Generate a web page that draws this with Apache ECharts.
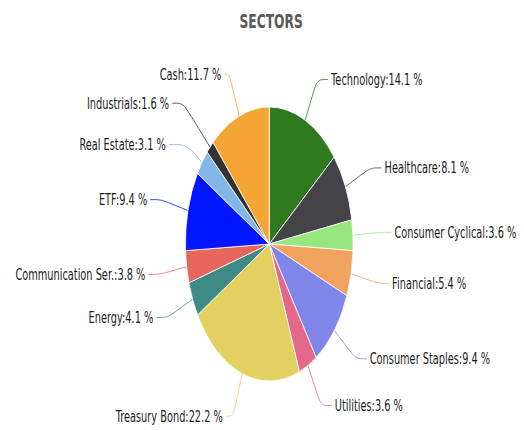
<!DOCTYPE html>
<html>
<head>
<meta charset="utf-8">
<script src="https://cdn.jsdelivr.net/npm/echarts@6/dist/echarts.min.js"></script>
<style>
  html, body { margin: 0; padding: 0; background: #fff; overflow: hidden; }
  #wrap { width: 524px; height: 430px; overflow: hidden; }
  /* the reference is squashed horizontally, so draw wide and squeeze */
  #chart { width: 856px; height: 430px; transform: scaleX(0.612); transform-origin: 0 0; }
</style>
</head>
<body>
<div id="wrap"><div id="chart"></div></div>
<script>
const sectors = ['Technology', 'Healthcare', 'Consumer Cyclical', 'Financial', 'Consumer Staples',
  'Utilities', 'Treasury Bond', 'Energy', 'Communication Ser.', 'ETF', 'Real Estate', 'Industrials', 'Cash'];
const weights = [14.1, 8.1, 3.6, 5.4, 9.4, 3.6, 22.2, 4.1, 3.8, 9.4, 3.1, 1.6, 11.7];
const colors = ['#2f7a1f', '#434348', '#98e67f', '#f0a35f', '#8085e9', '#e5678a', '#e2d062',
  '#3f8a84', '#e4665c', '#0016ff', '#85b6e8', '#333333', '#f4a533'];
// a few connectors in the reference are shaped differently
const lineLen = { Industrials: 62, 'Real Estate': 30 };
const lineLen2 = { 'Real Estate': 30, Cash: 8, 'Treasury Bond': 12 };

const chart = echarts.init(document.getElementById('chart'), null, { renderer: 'svg' });

chart.setOption({
  animation: false,
  title: {
    text: 'SECTORS',
    left: 438,
    textAlign: 'center',
    top: 6,
    textStyle: { fontFamily: 'DejaVu Sans', fontSize: 20, fontWeight: 'bold', color: '#595959' }
  },
  series: [{
    type: 'pie',
    center: [440, 244],
    radius: 137,
    startAngle: 90,
    clockwise: true,
    avoidLabelOverlap: true,
    itemStyle: { borderColor: '#fff', borderWidth: 1 },
    label: {
      formatter: '{b}:{c} %',
      fontFamily: 'DejaVu Sans',
      fontSize: 16,
      color: '#1a1a1a'
    },
    labelLine: { length: 45, length2: 18, smooth: 0.3, lineStyle: { width: 1 } },
    data: sectors.map((name, i) => ({
      name,
      value: weights[i],
      itemStyle: { color: colors[i] },
      labelLine: {
        length: lineLen[name] || 45,
        length2: lineLen2[name] || 18,
        lineStyle: { color: colors[i] }
      }
    }))
  }]
});
</script>
</body>
</html>
